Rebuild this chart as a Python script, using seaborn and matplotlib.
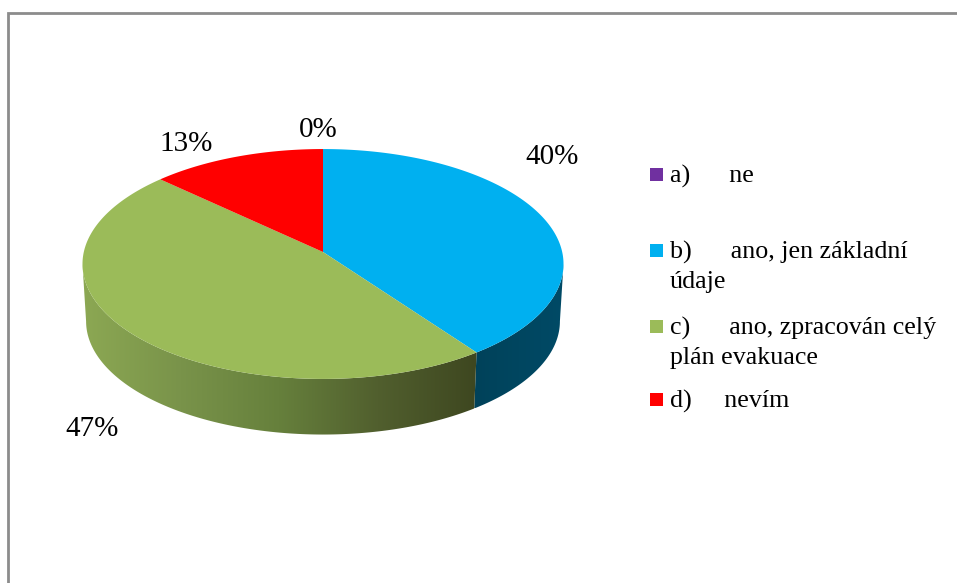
import numpy as np
import matplotlib
matplotlib.use("Agg")
import matplotlib.pyplot as plt
import seaborn as sns
from matplotlib.colors import LinearSegmentedColormap
from matplotlib.patches import Polygon, Rectangle

# ---- data ----
categories = ["a)      ne", "b)      ano, jen základní\núdaje",
              "c)      ano, zpracován celý\nplán evakuace", "d)     nevím"]
shares = [0, 40, 47, 13]
pct_labels = ["0%", "40%", "47%", "13%"]
top_colors = ["#7030A0", "#00B0F0", "#9BBB59", "#FF0000"]

sns.set_theme(style="white")
plt.rcParams["font.family"] = ["Liberation Serif", "DejaVu Serif"]
palette = sns.color_palette(top_colors)

fig = plt.figure(figsize=(9.57, 5.83), dpi=100, facecolor="white")

# the pie itself supplies the slice angles
aux = fig.add_axes([0, 0, 0.1, 0.1])
wedges, _ = aux.pie(shares, startangle=90, counterclock=False, colors=palette)
angles = [(w.theta1, w.theta2) for w in wedges]
aux.remove()

ax = fig.add_axes([0, 0, 1, 1])
W, H = 957, 583

# layout of the perspective disc, in figure pixels
CX, CY, A, B, P = 323.0, 252.0, 239.2, 113.7, 0.1043
DEPTH, SHRINK = 57.5, 0.985
# angles at which the projected rim reaches its left / right extremes
EDGE = np.degrees(np.arcsin(P))
LEFT_EDGE, RIGHT_EDGE = -180 + EDGE, -EDGE


def project(theta_deg, scale=1.0, drop=0.0):
    t = np.radians(theta_deg)
    u, v = np.cos(t), np.sin(t)
    d = 1 + P * v
    return CX + scale * A * u / d, CY + drop - scale * B * v / d


def wall_polygon(t1, t2):
    t1, t2 = max(t1, LEFT_EDGE), min(t2, RIGHT_EDGE)
    ts = np.linspace(t1, t2, 200)
    x1, y1 = project(ts)
    x2, y2 = project(ts, scale=SHRINK, drop=DEPTH)
    return np.r_[np.c_[x1, y1], np.c_[x2, y2][::-1]]


# side walls: blue (dark, flat) then green (gradient)
blue_wall = LinearSegmentedColormap.from_list("bw", ["#00425A", "#004A66"])
green_wall = LinearSegmentedColormap.from_list(
    "gw", ["#8CA853", "#79934A", "#66803C", "#515F2E", "#3E4720"])

for idx, cmap in ((1, blue_wall), (2, green_wall)):
    t1, t2 = angles[idx]
    poly = wall_polygon(t1, t2)
    im = ax.imshow(np.linspace(0, 1, 256)[None, :], cmap=cmap, aspect="auto",
                   extent=[poly[:, 0].min(), poly[:, 0].max(), poly[:, 1].max(), poly[:, 1].min()],
                   zorder=1, interpolation="bilinear")
    clip = Polygon(poly, closed=True, transform=ax.transData)
    im.set_clip_path(clip)

# top faces
for (t1, t2), col in zip(angles, palette):
    if abs(t2 - t1) < 1e-6:
        continue
    ts = np.linspace(t1, t2, 200)
    x, y = project(ts)
    ax.fill(np.r_[CX, x], np.r_[CY, y], color=col, lw=0, zorder=2)

# percentage labels
label_xy = [(318, 130), (552, 157), (92, 429), (186, 144)]
for txt, (lx, ly) in zip(pct_labels, label_xy):
    ax.text(lx, ly, txt, ha="center", va="center", fontsize=21, color="black", zorder=3)

# legend
legend_y = [174, 250, 326, 399]
for name, col, ly in zip(categories, palette, legend_y):
    ax.add_patch(Rectangle((650, ly - 6.5), 13, 13, facecolor=col, edgecolor="none", zorder=3))
    ax.text(670, ly - 9, name, ha="left", va="top", fontsize=18.7, color="black",
            linespacing=1.38, zorder=3)

# chart frame (only the top and left edges fall inside the picture)
ax.plot([7.5, 7.5, W], [H, 12.5, 12.5], color="#8C8C8C", lw=2.0, solid_joinstyle="miter", zorder=4)

ax.set_xlim(0, W)
ax.set_ylim(H, 0)
ax.axis("off")
fig.savefig("out.png", dpi=100, facecolor="white")
